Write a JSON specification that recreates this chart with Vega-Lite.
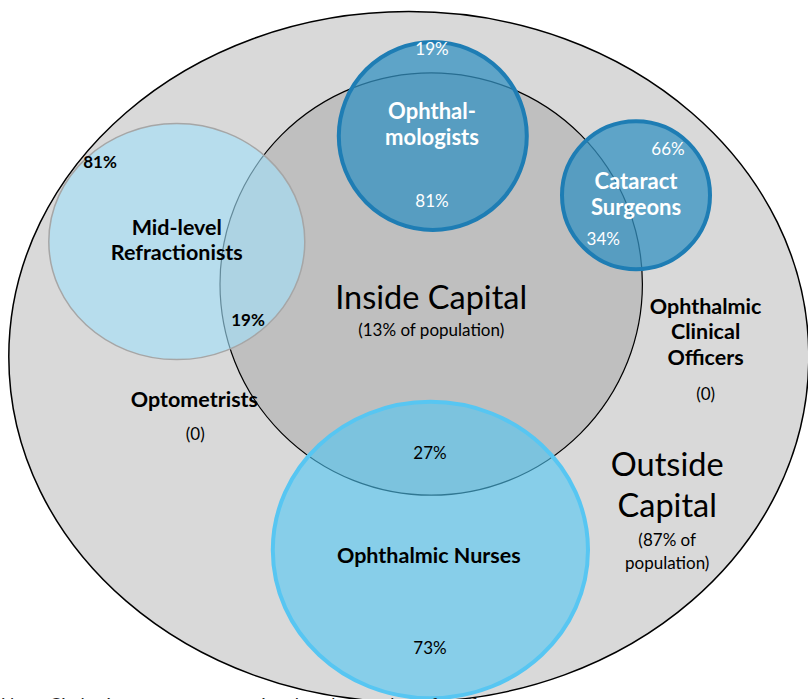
{
  "$schema": "https://vega.github.io/schema/vega-lite/v6.json",
  "width": 808,
  "height": 699,
  "padding": 0,
  "autosize": {"type": "none"},
  "background": "white",
  "config": {"view": {"stroke": null}, "text": {"font": "Lato"}},
  "datasets": {
    "circles": [
      {"name": "Outside Capital", "x": 51.1, "y": 44.6, "r": 50.0},
      {"name": "Inside Capital", "x": 53.9, "y": 35.5, "r": 26.4},
      {"name": "Mid-level Refractionists", "x": 22.1, "y": 30.2, "r": 16.0},
      {"name": "Ophthalmic Nurses", "x": 53.8, "y": 68.75, "r": 19.7},
      {"name": "Ophthalmologists", "x": 54.1, "y": 17.0, "r": 11.75},
      {"name": "Cataract Surgeons", "x": 79.5, "y": 24.4, "r": 9.25}
    ]
  },
  "encoding": {
    "x": {"field": "x", "type": "quantitative", "scale": {"domain": [0, 101], "nice": false, "zero": false}, "axis": null},
    "y": {"field": "y", "type": "quantitative", "scale": {"domain": [0, 87.375], "nice": false, "zero": false, "reverse": true}, "axis": null}
  },
  "layer": [
    {
      "data": {"name": "circles"},
      "transform": [{"filter": "datum.name == 'Outside Capital'"}],
      "mark": {"type": "point", "shape": "M-1,0A1,0.863,0,1,1,1,0A1,0.863,0,1,1,-1,0Z", "filled": true, "fill": "#d9d9d9", "stroke": "#000000", "strokeWidth": 1.5, "opacity": 1},
      "encoding": {"size": {"field": "r", "type": "quantitative", "scale": {"type": "pow", "exponent": 2, "domain": [0, 50], "range": [0, 640000]}, "legend": null}}
    },
    {
      "data": {"name": "circles"},
      "transform": [{"filter": "datum.name == 'Inside Capital'"}],
      "mark": {"type": "point", "shape": "circle", "filled": true, "fill": "#bfbfbf", "stroke": "#000000", "strokeWidth": 1.2, "opacity": 1},
      "encoding": {"size": {"field": "r", "type": "quantitative", "scale": {"type": "pow", "exponent": 2, "domain": [0, 50], "range": [0, 640000]}, "legend": null}}
    },
    {
      "data": {"name": "circles"},
      "transform": [{"filter": "datum.name == 'Mid-level Refractionists'"}],
      "mark": {"type": "point", "shape": "M-1,0A1,0.922,0,1,1,1,0A1,0.922,0,1,1,-1,0Z", "filled": true, "fill": "#a2def8", "fillOpacity": 0.62, "stroke": "#a6a6a6", "strokeWidth": 1.5, "strokeOpacity": 1, "opacity": 1},
      "encoding": {"size": {"field": "r", "type": "quantitative", "scale": {"type": "pow", "exponent": 2, "domain": [0, 50], "range": [0, 640000]}, "legend": null}}
    },
    {
      "data": {"name": "circles"},
      "transform": [{"filter": "datum.name == 'Ophthalmic Nurses'"}],
      "mark": {"type": "point", "shape": "M-1,0A1,0.94,0,1,1,1,0A1,0.94,0,1,1,-1,0Z", "filled": true, "fill": "#50c7f4", "fillOpacity": 0.6, "stroke": "#57c6f2", "strokeWidth": 4, "strokeOpacity": 1, "opacity": 1},
      "encoding": {"size": {"field": "r", "type": "quantitative", "scale": {"type": "pow", "exponent": 2, "domain": [0, 50], "range": [0, 640000]}, "legend": null}}
    },
    {
      "data": {"name": "circles"},
      "transform": [{"filter": "datum.name == 'Ophthalmologists' || datum.name == 'Cataract Surgeons'"}],
      "mark": {"type": "point", "shape": "circle", "filled": true, "fill": "#3491c1", "fillOpacity": 0.75, "stroke": "#1e7db4", "strokeWidth": 4, "strokeOpacity": 1, "opacity": 1},
      "encoding": {"size": {"field": "r", "type": "quantitative", "scale": {"type": "pow", "exponent": 2, "domain": [0, 50], "range": [0, 640000]}, "legend": null}}
    },
    {
      "data": {"values": [
        {"x": 54.0, "y": 6.25, "label": "19%"},
        {"x": 54.0, "y": 25.25, "label": "81%"},
        {"x": 83.5, "y": 18.75, "label": "66%"},
        {"x": 75.4, "y": 30.0, "label": "34%"}
      ]},
      "mark": {"type": "text", "fill": "white", "fontSize": 17, "align": "center", "baseline": "middle"},
      "encoding": {"text": {"field": "label"}}
    },
    {
      "data": {"values": [
        {"x": 54.0, "y": 14.0, "label": "Ophthal-\nmologists"},
        {"x": 79.5, "y": 22.75, "label": "Cataract\nSurgeons"}
      ]},
      "mark": {"type": "text", "fill": "white", "fontSize": 22, "fontWeight": "bold", "align": "center", "baseline": "middle", "lineBreak": "\n", "lineHeight": 26},
      "encoding": {"text": {"field": "label"}}
    },
    {
      "data": {"values": [
        {"x": 22.1, "y": 28.6, "label": "Mid-level\nRefractionists"},
        {"x": 88.2, "y": 38.45, "label": "Ophthalmic\nClinical\nOfficers"},
        {"x": 24.3, "y": 50.1, "label": "Optometrists"},
        {"x": 53.6, "y": 69.6, "label": "Ophthalmic Nurses"}
      ]},
      "mark": {"type": "text", "fill": "black", "fontSize": 21.5, "fontWeight": "bold", "align": "center", "baseline": "middle", "lineBreak": "\n", "lineHeight": 25.5},
      "encoding": {"text": {"field": "label"}}
    },
    {
      "data": {"values": [
        {"x": 12.5, "y": 20.4, "label": "81%"},
        {"x": 31.0, "y": 40.1, "label": "19%"}
      ]},
      "mark": {"type": "text", "fill": "black", "fontSize": 17, "fontWeight": "bold", "align": "center", "baseline": "middle"},
      "encoding": {"text": {"field": "label"}}
    },
    {
      "data": {"values": [
        {"x": 53.9, "y": 41.4, "label": "(13% of population)"},
        {"x": 24.4, "y": 54.4, "label": "(0)"},
        {"x": 88.2, "y": 49.4, "label": "(0)"},
        {"x": 53.75, "y": 56.75, "label": "27%"},
        {"x": 83.4, "y": 67.6, "label": "(87% of\npopulation)"},
        {"x": 53.75, "y": 81.1, "label": "73%"}
      ]},
      "mark": {"type": "text", "fill": "black", "fontSize": 17, "align": "center", "baseline": "middle", "lineBreak": "\n", "lineHeight": 23},
      "encoding": {"text": {"field": "label"}}
    },
    {
      "data": {"values": [
        {"x": 53.9, "y": 37.4, "label": "Inside Capital"},
        {"x": 83.4, "y": 58.25, "label": "Outside\nCapital"}
      ]},
      "mark": {"type": "text", "fill": "black", "fontSize": 32.5, "align": "center", "baseline": "middle", "lineBreak": "\n", "lineHeight": 41},
      "encoding": {"text": {"field": "label"}}
    },
    {
      "data": {"values": [
        {"x": 0.1, "y": 87.15, "label": "Note: Circle sizes are not proportional to the number of staff"}
      ]},
      "mark": {"type": "text", "fill": "#222222", "fontSize": 18, "align": "left", "baseline": "top"},
      "encoding": {"text": {"field": "label"}}
    }
  ]
}
